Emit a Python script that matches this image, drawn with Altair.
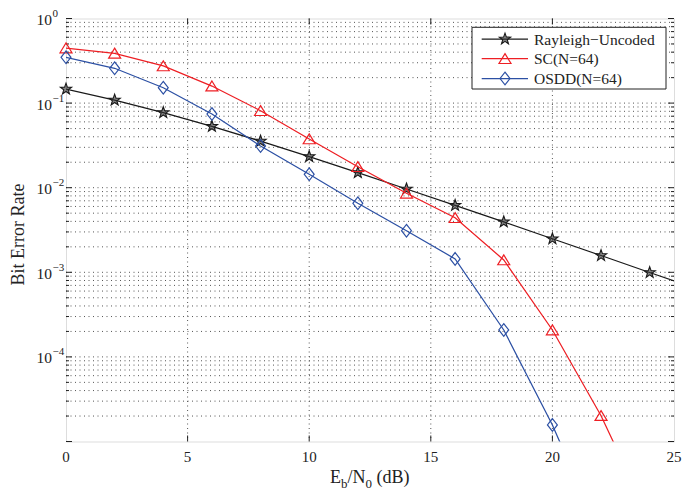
import math
import altair as alt
import pandas as pd

# ---------------- data ----------------
names = ["Rayleigh−Uncoded", "SC(N=64)", "OSDD(N=64)"]
colors = ["#1a1a1a", "#ee1f24", "#2c50a4"]

snr_ray = [0, 2, 4, 6, 8, 10, 12, 14, 16, 18, 20, 22, 24, 26]
ber_ray = [0.1464, 0.1085, 0.0771, 0.0530, 0.0355, 0.0233, 0.0151, 0.00966,
           0.00617, 0.00394, 0.00249, 0.00158, 0.000995, 0.000628]

snr_sc = [0, 2, 4, 6, 8, 10, 12, 14, 16, 18, 20, 22, 24]
ber_sc = [0.448, 0.388, 0.275, 0.159, 0.0813, 0.0377, 0.0177, 0.0086,
          0.00442, 0.00140, 0.000208, 2.02e-5, 1.2e-6]

snr_os = [0, 2, 4, 6, 8, 10, 12, 14, 16, 18, 20, 22]
ber_os = [0.348, 0.258, 0.152, 0.0743, 0.0311, 0.0144, 0.00654, 0.0031,
          0.00144, 0.000208, 1.57e-5, 7.5e-7]

x_ticks = [0, 5, 10, 15, 20, 25]
x_labels = ["0", "5", "10", "15", "20", "25"]
y_decades = [1, 1e-1, 1e-2, 1e-3, 1e-4]
y_exps = ["0", "−1", "−2", "−3", "−4"]

# ---------------- style ----------------
FONT = "Liberation Serif"
W, H = 608, 423
INK = "#222222"
GRID = "#555555"

xs = alt.Scale(domain=[0, 25], nice=False)
ys = alt.Scale(type="log", domain=[1e-5, 1], nice=False)

minor_vals = [m * 10.0 ** k for k in range(-5, 0) for m in range(2, 10)]
major_vals = [10.0 ** k for k in range(-5, 1)]

pts = []
for i in range(10):
    r = 1.0 if i % 2 == 0 else 0.4
    a = -math.pi / 2 + i * math.pi / 5
    pts.append(f"{r * math.cos(a):.3f},{r * math.sin(a):.3f}")
STAR = "M" + "L".join(pts) + "Z"
TRI = "M0,-0.85L1,0.8L-1,0.8Z"
DIA = "M0,-1L0.78,0L0,1L-0.78,0Z"
shapes = [STAR, TRI, DIA]
sizes = [140, 144, 161]

series = [(snr_ray, ber_ray), (snr_sc, ber_sc), (snr_os, ber_os)]

def dummy():
    return alt.Chart(pd.DataFrame({"k": [0]}))

def point_mark(i):
    if i == 0:
        return dict(shape=shapes[i], size=sizes[i], fill="#333333", fillOpacity=0.6,
                    stroke=colors[i], strokeWidth=1.1, opacity=1)
    return dict(shape=shapes[i], size=sizes[i], filled=False, fill="transparent",
                stroke=colors[i], strokeWidth=1.2, opacity=1)

X = lambda f: alt.X(f, scale=xs, axis=None)
Y = lambda f: alt.Y(f, scale=ys, axis=None)

layers = []

# dotted grid
hgrid = pd.DataFrame({"v": minor_vals + major_vals[1:-1]})
layers.append(alt.Chart(hgrid).mark_rule(color=GRID, strokeWidth=1, strokeDash=[1, 3.5]).encode(
    y=Y("v:Q"), x=alt.value(0), x2=alt.value(W)))
vgrid = pd.DataFrame({"v": x_ticks[1:-1]})
layers.append(alt.Chart(vgrid).mark_rule(color=GRID, strokeWidth=1, strokeDash=[1, 3.5]).encode(
    x=X("v:Q"), y=alt.value(0), y2=alt.value(H)))

# inward ticks
maj = pd.DataFrame({"v": major_vals})
mnr = pd.DataFrame({"v": minor_vals})
for dfv, L in ((maj, 6), (mnr, 3)):
    layers.append(alt.Chart(dfv).mark_rule(color=INK, strokeWidth=1).encode(
        y=Y("v:Q"), x=alt.value(0), x2=alt.value(L)))
    layers.append(alt.Chart(dfv).mark_rule(color=INK, strokeWidth=1).encode(
        y=Y("v:Q"), x=alt.value(W), x2=alt.value(W - L)))
layers.append(alt.Chart(vgrid).mark_rule(color=INK, strokeWidth=1).encode(
    x=X("v:Q"), y=alt.value(H), y2=alt.value(H - 6)))
layers.append(alt.Chart(vgrid).mark_rule(color=INK, strokeWidth=1).encode(
    x=X("v:Q"), y=alt.value(0), y2=alt.value(6)))

# series
for i, (sx, sy) in enumerate(series):
    df = pd.DataFrame({"snr": sx, "ber": sy})
    layers.append(alt.Chart(df).mark_line(color=colors[i], strokeWidth=1.25, clip=True).encode(
        x=X("snr:Q"), y=Y("ber:Q")))
    layers.append(alt.Chart(df).transform_filter(
        "datum.snr <= 25 && datum.ber >= 1e-5").mark_point(**point_mark(i)).encode(
        x=X("snr:Q"), y=Y("ber:Q")))

# x tick labels
xl = pd.DataFrame({"v": x_ticks, "t": x_labels})
layers.append(alt.Chart(xl).mark_text(align="center", baseline="middle", font=FONT,
                                      fontSize=15, color=INK).encode(
    x=X("v:Q"), y=alt.value(H + 15), text="t:N"))

# y tick labels 10^k
dec = pd.DataFrame({"v": y_decades, "e": y_exps})
layers.append(alt.Chart(dec).mark_text(align="right", baseline="middle", dy=1.5,
                                       font=FONT, fontSize=15.5, color=INK).encode(
    y=Y("v:Q"), x=alt.value(-14), text=alt.value("10")))
layers.append(alt.Chart(dec).mark_text(align="left", baseline="middle", dy=-4.5,
                                       font=FONT, fontSize=11, color=INK).encode(
    y=Y("v:Q"), x=alt.value(-13.5), text="e:N"))

# axis titles
layers.append(dummy().mark_text(angle=270, baseline="middle", align="center",
                                font=FONT, fontSize=18, color=INK).encode(
    x=alt.value(-47), y=alt.value(216), text=alt.value("Bit Error Rate")))
title_parts = [("E", 264, 0, 18), ("b", 275, 5, 13), ("/", 281.5, 0, 18),
               ("N", 286.5, 0, 18), ("0", 299.5, 5, 13), ("(dB)", 310.5, 0, 18)]
for txt, px, dyy, fs in title_parts:
    layers.append(dummy().mark_text(align="left", baseline="alphabetic", font=FONT,
                                    fontSize=fs, color=INK).encode(
        x=alt.value(px), y=alt.value(464.5 + dyy), text=alt.value(txt)))

# legend
layers.append(dummy().mark_rect(fill="white", stroke=INK, strokeWidth=1).encode(
    x=alt.value(406), x2=alt.value(600), y=alt.value(8.8), y2=alt.value(70.5)))
rows = [20.5, 40.2, 60]
for i, nm in enumerate(names):
    ry = rows[i]
    layers.append(dummy().mark_rule(color=colors[i], strokeWidth=1.25).encode(
        x=alt.value(415.7), x2=alt.value(462), y=alt.value(ry)))
    layers.append(dummy().mark_point(**point_mark(i)).encode(
        x=alt.value(439), y=alt.value(ry)))
    layers.append(dummy().mark_text(align="left", baseline="middle", font=FONT,
                                    fontSize=15.5, color=INK).encode(
        x=alt.value(468), y=alt.value(ry + 0.5), text=alt.value(nm)))

chart = alt.layer(*layers).properties(
    width=W, height=H,
    autosize=alt.AutoSizeParams(type="none"),
    padding={"left": 58, "top": 10.5, "right": 15, "bottom": 57},
).configure_view(stroke="#262626", strokeWidth=1.5).configure(background="white")

chart.save("out.html", embed_options={"renderer": "svg", "actions": False})
